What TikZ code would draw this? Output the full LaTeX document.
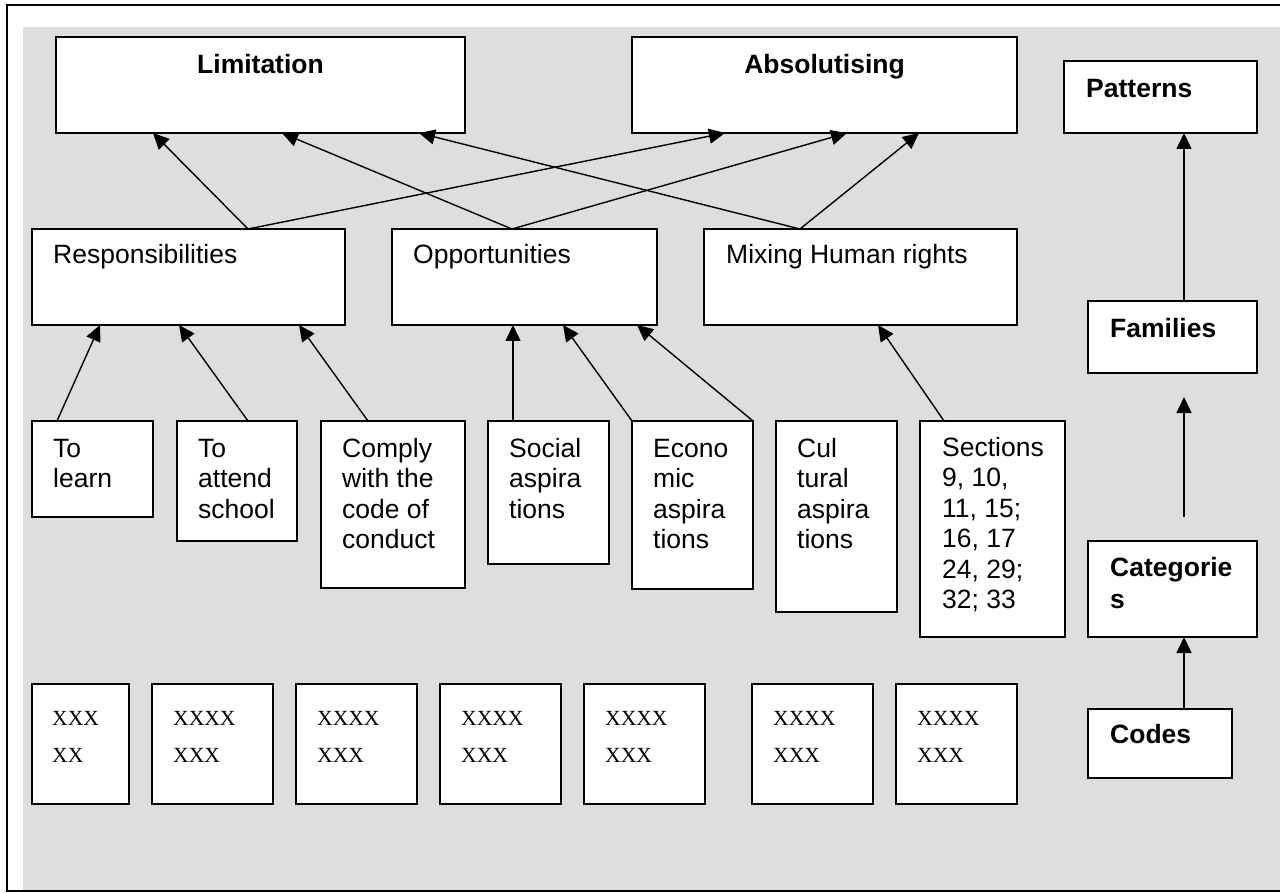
\documentclass[tikz,border=0pt]{standalone}
\usepackage{fontspec}
\setmainfont{Liberation Sans}
\newfontfamily\xserif{Liberation Serif}
\usetikzlibrary{arrows.meta}
\definecolor{bggray}{RGB}{222,222,222}
\newcommand\fl{\rule{0pt}{20pt}}
\begin{document}
\begin{tikzpicture}[x=1pt,y=-1pt,
  box/.style={draw=black, line width=1.8pt, fill=white, inner sep=0pt, outer sep=0pt, anchor=north west},
  txt/.style={inner sep=0pt, anchor=north west, align=left, font=\fontsize{26.5pt}{30.5pt}\selectfont},
  ttl/.style={inner sep=0pt, anchor=north west, align=left, font=\fontsize{26.5pt}{32pt}\selectfont\bfseries},
  xtxt/.style={inner sep=0pt, anchor=north west, align=left, font=\fontsize{21.6pt}{37pt}\xserif},
  arr/.style={line width=1.4pt, -{Triangle[length=16pt,width=15pt]}}]
\useasboundingbox (0,0) rectangle (1280,893);
% background and frame
\fill[bggray] (23,27) rectangle (1280,891);
\draw[line width=2pt] (1282,5) -- (7,5) -- (7,891) -- (1282,891);

% top level
\node[box, minimum width=409pt, minimum height=96pt] (lim) at (56,37) {};
\node[box, minimum width=385pt, minimum height=96pt] (abs) at (632,37) {};
\node[box, minimum width=193pt, minimum height=72pt] (pat) at (1064,61) {};
\node[box, minimum width=169pt, minimum height=72pt] (fam) at (1088,301) {};
\node[box, minimum width=169pt, minimum height=96pt] (cat) at (1088,541) {};
\node[box, minimum width=144pt, minimum height=69pt] (codes) at (1088,709) {};
% middle level
\node[box, minimum width=313pt, minimum height=96pt] (resp) at (32,229) {};
\node[box, minimum width=265pt, minimum height=96pt] (opp) at (392,229) {};
\node[box, minimum width=313pt, minimum height=96pt] (mix) at (704,229) {};
% lower level
\node[box, minimum width=121pt, minimum height=96pt] (learn) at (32,421) {};
\node[box, minimum width=120pt, minimum height=120pt] (attend) at (177,421) {};
\node[box, minimum width=144pt, minimum height=167pt] (comply) at (321,421) {};
\node[box, minimum width=121pt, minimum height=143pt] (social) at (488,421) {};
\node[box, minimum width=121pt, minimum height=168pt] (econ) at (632,421) {};
\node[box, minimum width=121pt, minimum height=191pt] (cult) at (776,421) {};
\node[box, minimum width=145pt, minimum height=216pt] (sect) at (920,421) {};
% code boxes
\node[box, minimum width=97pt, minimum height=120pt] (b1) at (32,684) {};
\node[box, minimum width=121pt, minimum height=120pt] (b2) at (152,684) {};
\node[box, minimum width=121pt, minimum height=120pt] (b3) at (296,684) {};
\node[box, minimum width=121pt, minimum height=120pt] (b4) at (440,684) {};
\node[box, minimum width=121pt, minimum height=120pt] (b5) at (584,684) {};
\node[box, minimum width=121pt, minimum height=120pt] (b6) at (752,684) {};
\node[box, minimum width=121pt, minimum height=120pt] (b7) at (896,684) {};

% texts
\node[ttl, anchor=north] (tlim) at ([yshift=-16pt]lim.north) {\fl Limitation};
\node[ttl, anchor=north] (tabs) at ([yshift=-16pt]abs.north) {\fl Absolutising};
\node[ttl] (tpat) at ([xshift=22pt,yshift=-16pt]pat.north west) {\fl Patterns};
\node[ttl] (tfam) at ([xshift=22pt,yshift=-16pt]fam.north west) {\fl Families};
\node[ttl] (tcat) at ([xshift=22pt,yshift=-15pt]cat.north west) {\fl Categorie\\s};
\node[ttl] (tcodes) at ([xshift=22pt,yshift=-14pt]codes.north west) {\fl Codes};
\node[txt] (tresp) at ([xshift=21pt,yshift=-14pt]resp.north west) {\fl Responsibilities};
\node[txt] (topp) at ([xshift=21pt,yshift=-14pt]opp.north west) {\fl Opportunities};
\node[txt] (tmix) at ([xshift=22pt,yshift=-14pt]mix.north west) {\fl Mixing Human rights};
\node[txt] (tlearn) at ([xshift=21pt,yshift=-16pt]learn.north west) {\fl To\\learn};
\node[txt] (tattend) at ([xshift=21pt,yshift=-16pt]attend.north west) {\fl To\\attend\\school};
\node[txt] (tcomply) at ([xshift=21pt,yshift=-16pt]comply.north west) {\fl Comply\\with the\\code of\\conduct};
\node[txt] (tsocial) at ([xshift=21pt,yshift=-16pt]social.north west) {\fl Social\\aspira\\tions};
\node[txt] (tecon) at ([xshift=21pt,yshift=-16pt]econ.north west) {\fl Econo\\mic\\aspira\\tions};
\node[txt] (tcult) at ([xshift=21pt,yshift=-16pt]cult.north west) {\fl Cul\\tural\\aspira\\tions};
\node[txt] (tsect) at ([xshift=22pt,yshift=-15pt]sect.north west) {\fl Sections\\9, 10,\\11, 15;\\16, 17\\24, 29;\\32; 33};
\node[xtxt] (tb1) at ([xshift=20pt,yshift=-21pt]b1.north west) {\fl XXX\\XX};
\node[xtxt] (tb2) at ([xshift=21pt,yshift=-21pt]b2.north west) {\fl XXXX\\XXX};
\node[xtxt] (tb3) at ([xshift=21pt,yshift=-21pt]b3.north west) {\fl XXXX\\XXX};
\node[xtxt] (tb4) at ([xshift=21pt,yshift=-21pt]b4.north west) {\fl XXXX\\XXX};
\node[xtxt] (tb5) at ([xshift=21pt,yshift=-21pt]b5.north west) {\fl XXXX\\XXX};
\node[xtxt] (tb6) at ([xshift=21pt,yshift=-21pt]b6.north west) {\fl XXXX\\XXX};
\node[xtxt] (tb7) at ([xshift=21pt,yshift=-21pt]b7.north west) {\fl XXXX\\XXX};

% upper arrows
\draw[arr] ([xshift=216pt]resp.north west) -- ([xshift=97pt]lim.south west);
\draw[arr] ([xshift=216pt]resp.north west) -- ([xshift=93pt]abs.south west);
\draw[arr] ([xshift=120pt]opp.north west) -- ([xshift=226pt]lim.south west);
\draw[arr] ([xshift=120pt]opp.north west) -- ([xshift=215pt]abs.south west);
\draw[arr] ([xshift=96pt]mix.north west) -- ([xshift=363pt]lim.south west);
\draw[arr] ([xshift=96pt]mix.north west) -- ([xshift=287pt]abs.south west);
% lower arrows
\draw[arr] ([xshift=25pt]learn.north west) -- ([xshift=68pt]resp.south west);
\draw[arr] ([xshift=71pt]attend.north west) -- ([xshift=147pt]resp.south west);
\draw[arr] ([xshift=47pt]comply.north west) -- ([xshift=267pt]resp.south west);
\draw[arr] ([xshift=25pt]social.north west) -- ([xshift=121pt]opp.south west);
\draw[arr] (econ.north west) -- ([xshift=171pt]opp.south west);
\draw[arr] (econ.north east) -- ([xshift=245pt]opp.south west);
\draw[arr] ([xshift=24pt]sect.north west) -- ([xshift=174pt]mix.south west);
% right column
\draw[arr] ([xshift=96pt]fam.north west) -- ([xshift=120pt]pat.south west);
\coordinate (fa) at (1184,517);
\coordinate (fb) at (1184,397);
\draw[arr] (fa) -- (fb);
\draw[arr] ([xshift=96pt]codes.north west) -- ([xshift=96pt]cat.south west);
\end{tikzpicture}
\end{document}
